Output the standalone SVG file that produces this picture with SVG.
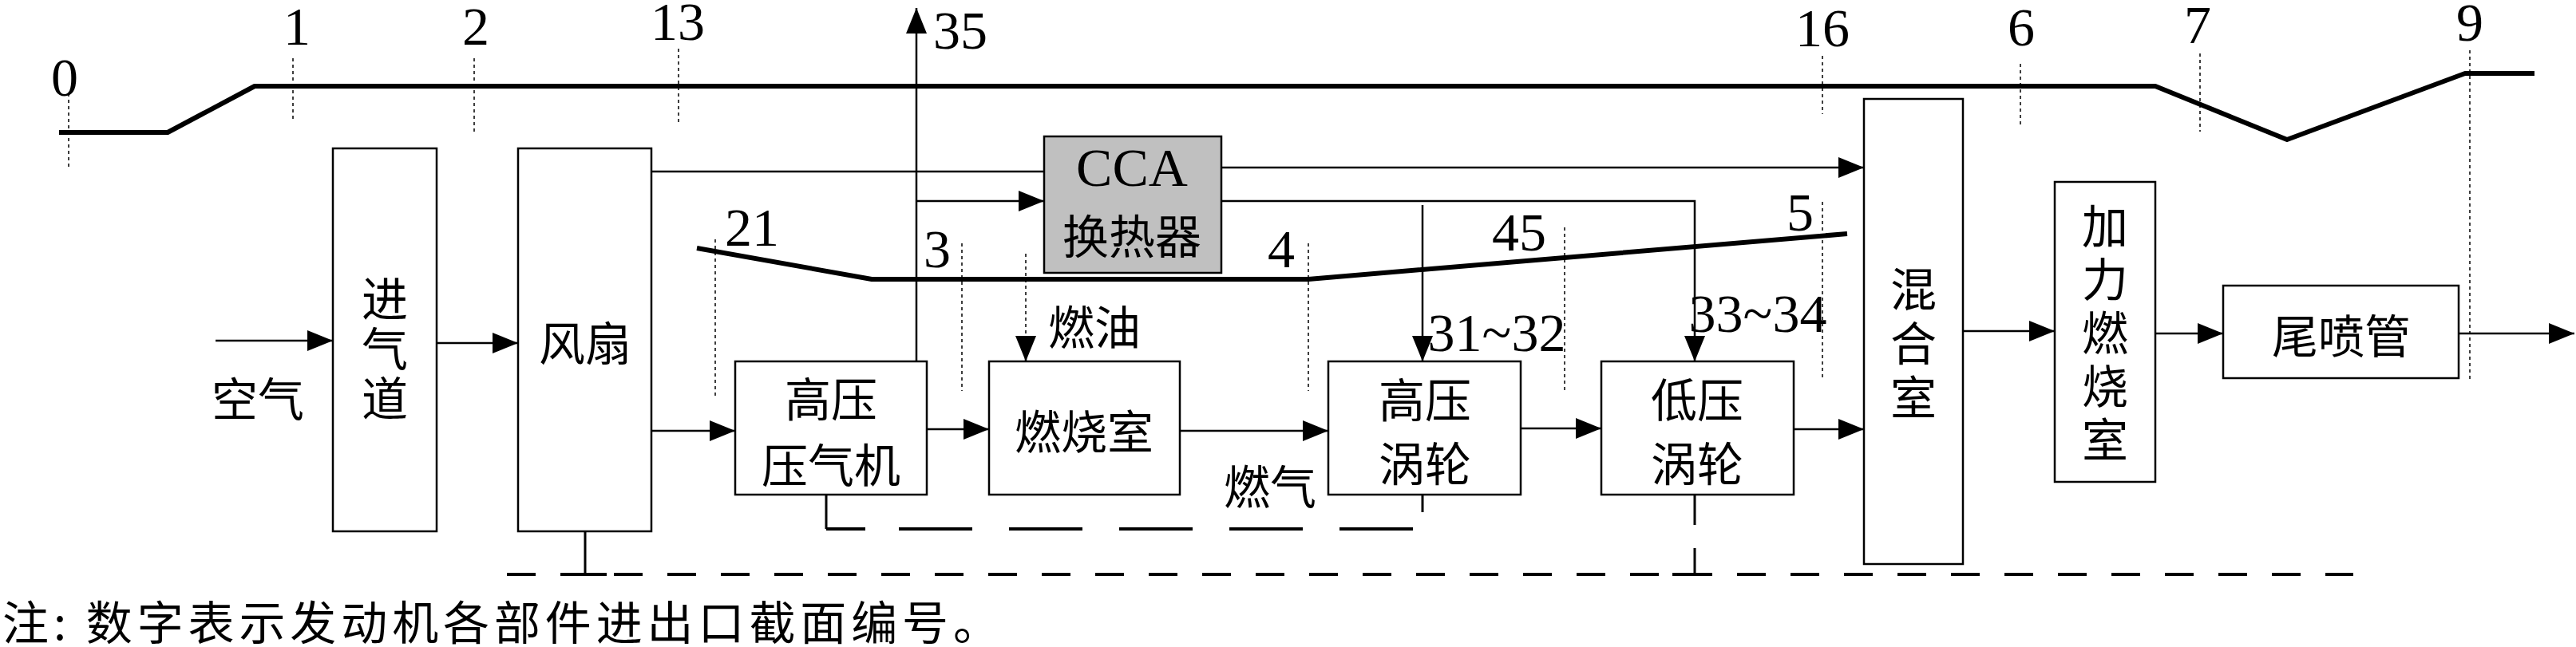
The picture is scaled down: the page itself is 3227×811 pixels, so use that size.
<svg xmlns="http://www.w3.org/2000/svg" width="3227" height="811" viewBox="0 0 3227 811">
<defs>
<marker id="ah" viewBox="0 0 32 26" refX="32" refY="13" markerWidth="32" markerHeight="26" markerUnits="userSpaceOnUse" orient="auto"><path d="M0,0 L32,13 L0,26 z" fill="#000"/></marker>
<style>
.box{fill:#fff;stroke:#000;stroke-width:2.5}
.cca{fill:#c0c0c0;stroke:#000;stroke-width:2.5}
.cn{font-family:"Noto Sans CJK SC",sans-serif;font-size:58px;text-anchor:middle;dominant-baseline:central}
.vt{font-family:"Noto Sans CJK SC",sans-serif;font-size:58px;text-anchor:middle;writing-mode:vertical-rl}
.num{font-family:"Liberation Serif",serif;font-size:68px;text-anchor:middle;dominant-baseline:central}
.ln{fill:none;stroke:#000;stroke-width:2.5}
.arr{fill:none;stroke:#000;stroke-width:2.5;marker-end:url(#ah)}
.thick{fill:none;stroke:#000;stroke-width:6;stroke-linejoin:round}
.dot{fill:none;stroke:#000;stroke-width:1.5;stroke-dasharray:4 4}
.dash{fill:none;stroke:#000;stroke-width:4}
</style>
</defs>
<rect width="3227" height="811" fill="#fff"/>

<g id="stations">
<path class="thick" d="M74,166 H210 L319,108 H2700 L2865,175 L3088,92 H3175"/>
<path class="thick" d="M873,311 L1092,350 H1639 L2314,293"/>
<path class="dot" d="M86,117 V213 M367,73 V153 M594,73 V167 M850,61 V155 M896,300 V497 M1205,305 V490 M1639,305 V490 M1960,285 V492 M2283,253 V473 M2283,70 V143 M2531,80 V160 M2756,67 V165 M3094,63 V478"/>
<text class="num" x="81" y="97">0</text>
<text class="num" x="372" y="33">1</text>
<text class="num" x="596" y="33">2</text>
<text class="num" x="849" y="27">13</text>
<text class="num" x="1203" y="38">35</text>
<text class="num" x="942" y="285">21</text>
<text class="num" x="1174" y="312">3</text>
<text class="num" x="1605" y="312">4</text>
<text class="num" x="1903" y="291">45</text>
<text class="num" x="2255" y="266">5</text>
<text class="num" x="2283" y="35">16</text>
<text class="num" x="2532" y="34">6</text>
<text class="num" x="2753" y="31">7</text>
<text class="num" x="3094" y="28">9</text>
<text class="num" x="1875" y="417">31~32</text>
<text class="num" x="2202" y="393">33~34</text>
</g>

<g id="connectors">
<path class="arr" d="M270,427 H417"/>
<path class="arr" d="M547,430 H649"/>
<path class="arr" d="M816,540 H921"/>
<path class="arr" d="M1161,538 H1239"/>
<path class="arr" d="M1478,540 H1664"/>
<path class="arr" d="M1905,537 H2006"/>
<path class="arr" d="M2247,538 H2335"/>
<path class="arr" d="M2459,415 H2574"/>
<path class="arr" d="M2700,418 H2785"/>
<path class="arr" d="M3080,418 H3225"/>
<path class="ln" d="M816,215 H1308"/>
<path class="arr" d="M1530,210 H2335"/>
<path class="arr" d="M1148,453 V10"/>
<path class="arr" d="M1148,252 H1308"/>
<path class="arr" d="M1530,252 H2123 V453"/>
<path class="arr" d="M1782,257 V453"/>
<path class="dot" d="M1285,318 V422"/>
<path class="arr" d="M1285,421 V453"/>
<path class="ln" d="M733,666 V720" style="stroke-width:3"/>
<path class="dash" d="M635,720 H2948" style="stroke-dasharray:36 31"/>
<path class="dash" d="M705,720 H760 M2095,720 H2125"/>
<path class="ln" d="M1035,620 V663" style="stroke-width:3"/>
<path class="dash" d="M1035,663 H1084"/>
<path class="dash" d="M1126,663 H1773" style="stroke-dasharray:92 46"/>
<path class="ln" d="M1782,620 V642" style="stroke-width:3"/>
<path class="ln" d="M2123,620 V658 M2123,687 V720" style="stroke-width:3"/>
<text class="cn" x="323" y="497">空气</text>
<text class="cn" x="1371" y="407">燃油</text>
<text class="cn" x="1591" y="607">燃气</text>
</g>

<g id="inlet">
<rect class="box" x="417" y="186" width="130" height="480"/>
<text class="vt" x="482" y="439" style="letter-spacing:4.5px">进气道</text>
</g>
<g id="fan">
<rect class="box" x="649" y="186" width="167" height="480"/>
<text class="cn" x="733" y="427">风扇</text>
</g>
<g id="cca">
<rect class="cca" x="1308" y="171" width="222" height="171"/>
<text class="num" x="1418" y="210">CCA</text>
<text class="cn" x="1418" y="293">换热器</text>
</g>
<g id="hpc">
<rect class="box" x="921" y="453" width="240" height="167"/>
<text class="cn"><tspan x="1041" y="497">高压</tspan><tspan x="1041" y="580">压气机</tspan></text>
</g>
<g id="combustor">
<rect class="box" x="1239" y="453" width="239" height="167"/>
<text class="cn" x="1358" y="538">燃烧室</text>
</g>
<g id="hpt">
<rect class="box" x="1664" y="453" width="241" height="167"/>
<text class="cn"><tspan x="1785" y="498">高压</tspan><tspan x="1785" y="578">涡轮</tspan></text>
</g>
<g id="lpt">
<rect class="box" x="2006" y="453" width="241" height="167"/>
<text class="cn"><tspan x="2126" y="498">低压</tspan><tspan x="2126" y="578">涡轮</tspan></text>
</g>
<g id="mixer">
<rect class="box" x="2335" y="124" width="124" height="583"/>
<text class="vt" x="2397" y="435" style="letter-spacing:10px">混合室</text>
</g>
<g id="afterburner">
<rect class="box" x="2574" y="228" width="126" height="376"/>
<text class="vt" x="2637" y="421" style="letter-spacing:9px">加力燃烧室</text>
</g>
<g id="nozzle">
<rect class="box" x="2785" y="358" width="295" height="116"/>
<text class="cn" x="2933" y="418">尾喷管</text>
</g>

<text x="3" y="777" textLength="1249" lengthAdjust="spacing" style="font-family:'Noto Sans CJK SC',sans-serif;font-size:58px;dominant-baseline:central">注: 数字表示发动机各部件进出口截面编号。</text>
</svg>
